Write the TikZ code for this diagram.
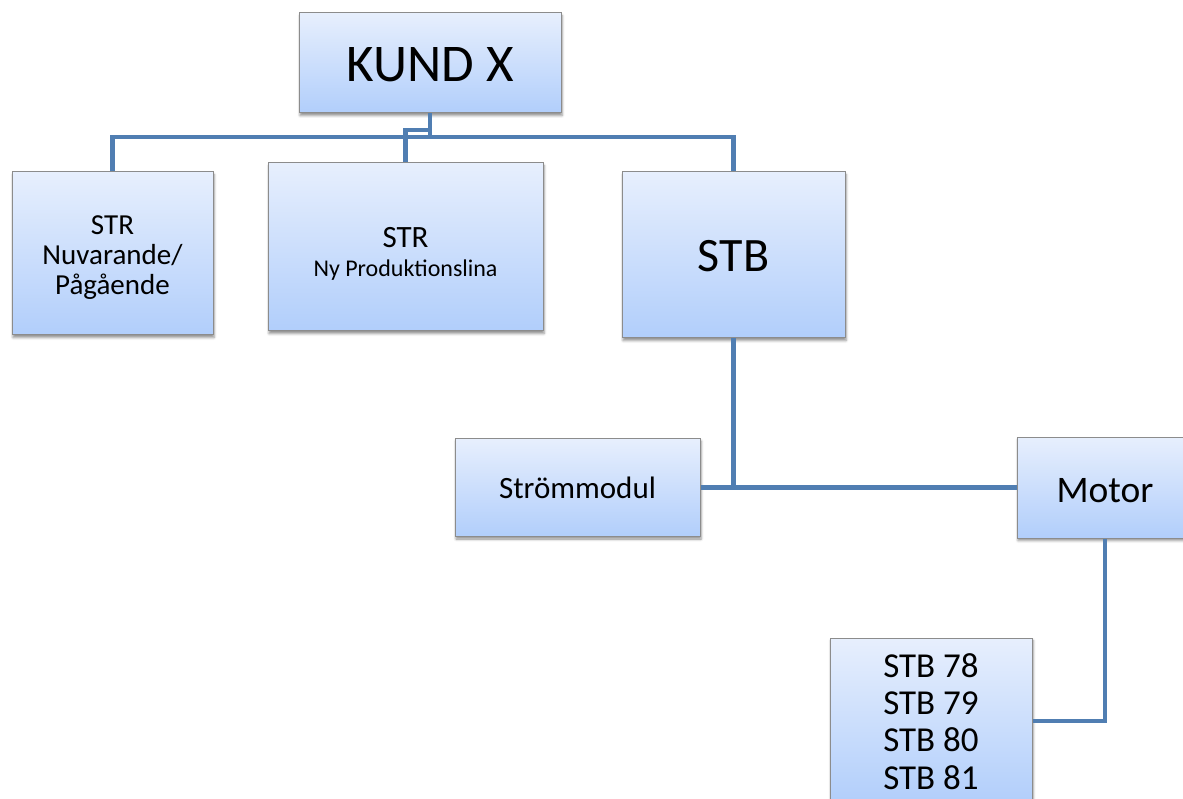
\documentclass[tikz,border=0pt]{standalone}
\usepackage{fontspec}
\setmainfont{Carlito}
\usetikzlibrary{shadows.blur}

\definecolor{boxtop}{RGB}{231,239,253}
\definecolor{boxbot}{RGB}{177,206,251}
\definecolor{boxedge}{RGB}{140,140,140}
\definecolor{link}{RGB}{80,126,178}

\tikzset{
  orgbox/.style={
    draw=boxedge, line width=1pt, rectangle, inner sep=0pt,
    top color=boxtop, bottom color=boxbot,
    blur shadow={shadow xshift=1pt, shadow yshift=-2.5pt,
                 shadow blur radius=2.5pt, shadow opacity=45}
  },
  boxtext/.style={inner sep=0pt, align=center, text=black},
  linkline/.style={draw=link, line width=4.8pt}
}

\newcommand{\fs}[2]{\fontsize{#1}{#2}\selectfont}

\begin{document}
\begin{tikzpicture}[x=1pt, y=-1pt]
  \useasboundingbox (0,0) rectangle (1183,799);
  \clip (0,0) rectangle (1183,799);

  % junction points of the top-level bus
  \coordinate (bus) at (430,137);
  \coordinate (jog) at (430,130);

  % boxes
  \node[orgbox, minimum width=262, minimum height=100] (kund)  at (430,63)     {};
  \node[orgbox, minimum width=201, minimum height=163] (str1)  at (112.5,253.5) {};
  \node[orgbox, minimum width=275, minimum height=168] (str2)  at (405.5,247)  {};
  \node[orgbox, minimum width=223, minimum height=166] (stb)   at (733.5,255)  {};
  \node[orgbox, minimum width=245, minimum height=98]  (strom) at (577.5,487.5) {};
  \node[orgbox, minimum width=176, minimum height=101] (motor) at (1105,487.5) {};
  \node[orgbox, minimum width=202, minimum height=166] (stbs)  at (931,721)    {};

  % box labels
  \node[boxtext, anchor=base, font=\fs{53}{56}] (kundT) at (430,82) {KUND X};
  \node[boxtext, anchor=north, font=\fs{29}{30}] (str1T) at (112.5,215)
    {STR\\Nuvarande/\\Pågående};
  \node[boxtext, anchor=north, font=\fs{31}{29}] (str2T) at (405.5,227)
    {STR\\{\fs{24}{29}Ny Produktionslina}};
  \node[boxtext, anchor=base, font=\fs{48}{52}] (stbT) at (733.5,272) {STB};
  \node[boxtext, anchor=base, font=\fs{31}{34}] (stromT) at (577.5,498) {Strömmodul};
  \node[boxtext, anchor=base, font=\fs{37.5}{40}] (motorT) at (1105,502) {Motor};
  \node[boxtext, anchor=north, font=\fs{35}{37.4}] (stbsT) at (931,653)
    {STB 78\\STB 79\\STB 80\\STB 81};

  % connectors
  \draw[linkline] (kund.south) -- (bus);
  \draw[linkline] (str1.north) -- (str1.north |- bus) -- (stb.north |- bus) -- (stb.north);
  \draw[linkline] (str2.north) -- (str2.north |- jog) -- (jog);
  \draw[linkline] (stb.south) -- (stb.south |- strom.east);
  \draw[linkline] (strom.east) -- (motor.west);
  \draw[linkline] (motor.south) |- (stbs.east);
\end{tikzpicture}
\end{document}
